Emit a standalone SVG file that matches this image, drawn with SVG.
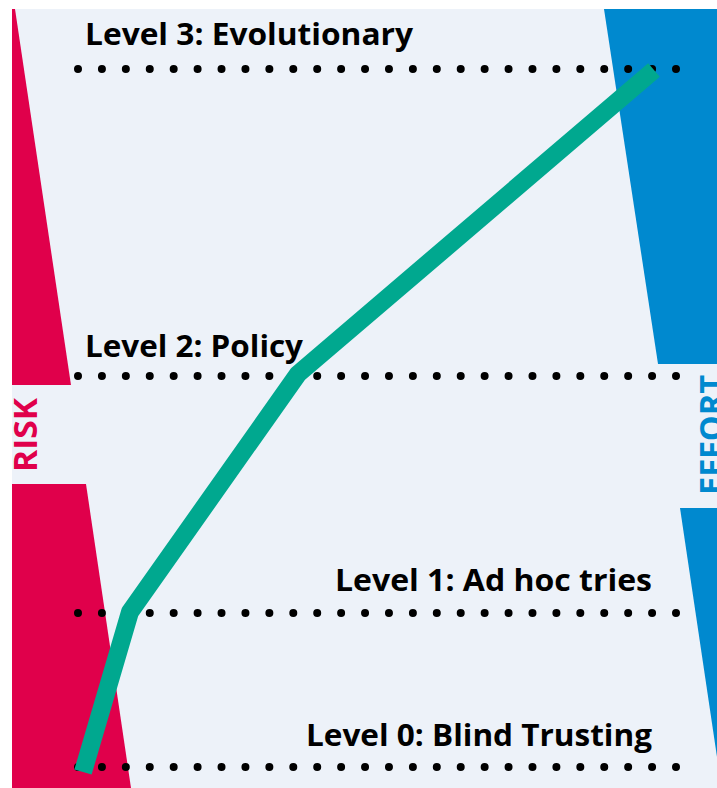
<svg xmlns="http://www.w3.org/2000/svg" width="717" height="788" viewBox="0 0 717 788">
<style>
.lbl{font-family:"Open Sans","Liberation Sans",sans-serif;font-weight:bold;font-size:30px;fill:#000}
.dots{stroke:#000;stroke-width:8;stroke-linecap:round;stroke-dasharray:0 23.92;fill:none}
.risk{fill:#E0004B}
.effort{fill:#0089CF}
.side{font-family:"Open Sans","Liberation Sans",sans-serif;font-weight:bold;font-size:32px}
</style>
<rect x="0" y="0" width="717" height="788" fill="#fff"/>
<rect x="12" y="9" width="705" height="779" fill="#EDF2F9"/>
<g id="risk-bar">
<polygon class="risk" points="12,9 15,9 71,385 12,385"/>
<polygon class="risk" points="12,484 86,484 131,788 12,788"/>
<text class="side" fill="#E0004B" transform="translate(37,472) rotate(-90)" textLength="74" lengthAdjust="spacingAndGlyphs">RISK</text>
</g>
<g id="effort-bar">
<polygon class="effort" points="604,9 717,9 717,364 658,364"/>
<polygon class="effort" points="680,508 717,508 717,757"/>
<text class="side" fill="#0089CF" transform="translate(723,495) rotate(-90)" textLength="120" lengthAdjust="spacingAndGlyphs">EFFORT</text>
</g>
<g id="level-lines">
<line class="dots" x1="78" y1="69" x2="677" y2="69"/>
<line class="dots" x1="78" y1="376" x2="677" y2="376"/>
<line class="dots" x1="78" y1="613" x2="677" y2="613"/>
<line class="dots" x1="78" y1="767" x2="677" y2="767"/>
</g>
<g id="connectors">
<polyline points="83,772 130,612 298,374 654,70" fill="none" stroke="#00A88F" stroke-width="18" stroke-linejoin="round"/>
</g>
<g id="level3"><text class="lbl" x="85" y="45" textLength="328" lengthAdjust="spacingAndGlyphs">Level 3: Evolutionary</text></g>
<g id="level2"><text class="lbl" x="85" y="357" textLength="218" lengthAdjust="spacingAndGlyphs">Level 2: Policy</text></g>
<g id="level1"><text class="lbl" x="335" y="591" textLength="317" lengthAdjust="spacingAndGlyphs">Level 1: Ad hoc tries</text></g>
<g id="level0"><text class="lbl" x="306" y="746" textLength="346" lengthAdjust="spacingAndGlyphs">Level 0: Blind Trusting</text></g>
</svg>
